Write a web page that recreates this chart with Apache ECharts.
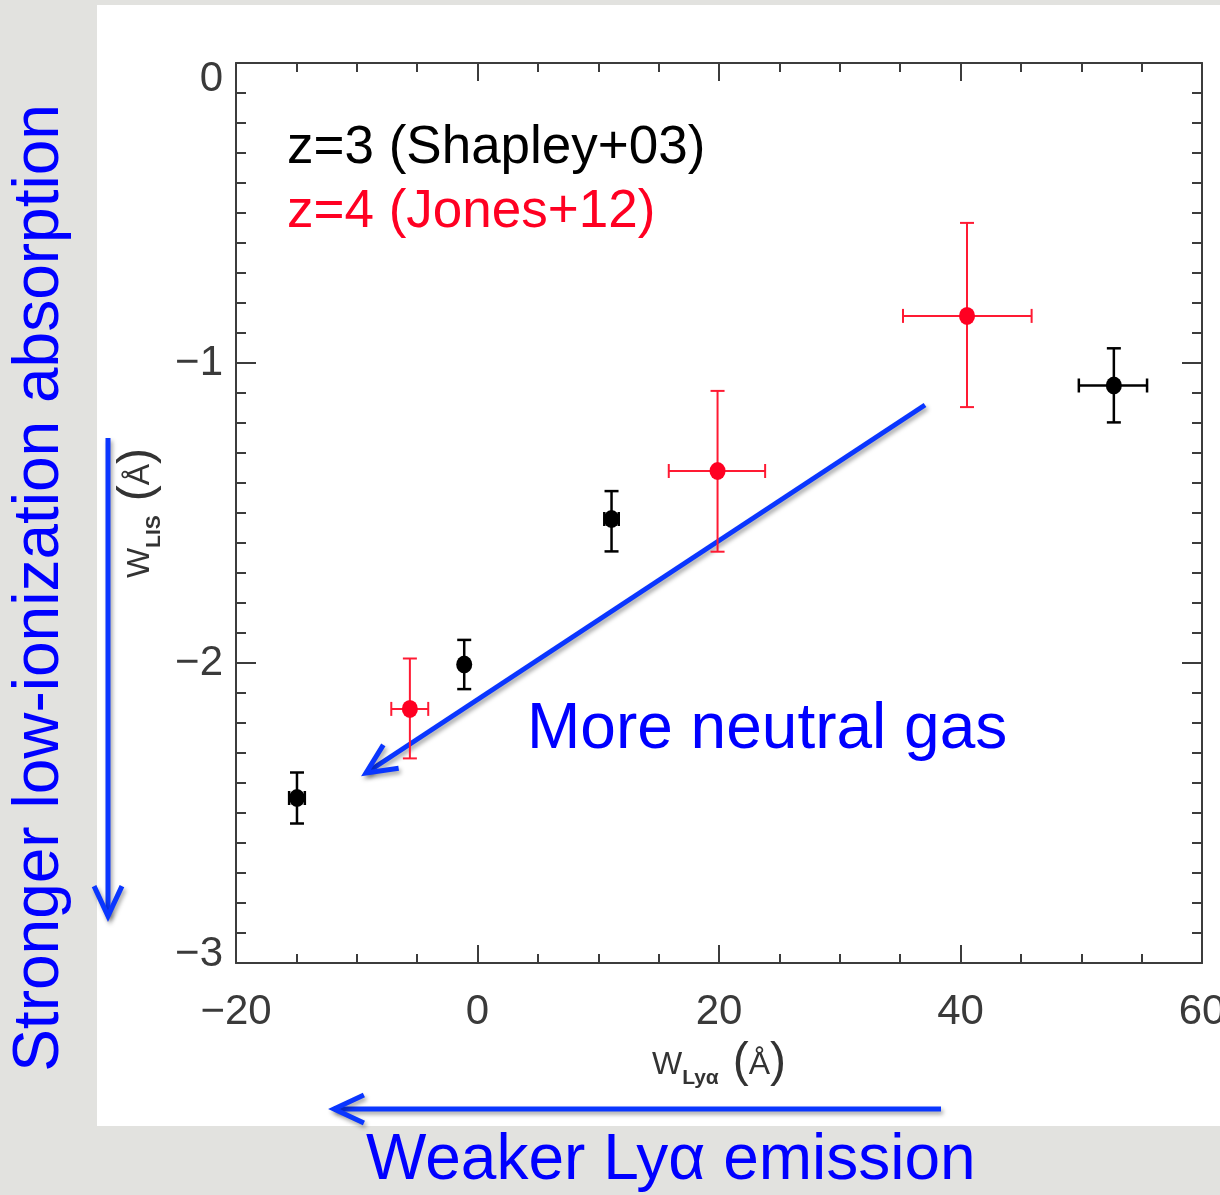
<!DOCTYPE html>
<html>
<head>
<meta charset="utf-8">
<script src="https://cdn.jsdelivr.net/npm/echarts@6/dist/echarts.min.js"></script>
<style>html,body{margin:0;padding:0;background:#e2e2df;overflow:hidden;}#chart{width:1220px;height:1195px;}</style>
</head>
<body>
<div id="chart"></div>
<script>
// ---- data ----
const seriesNames = ['z=3 (Shapley+03)', 'z=4 (Jones+12)'];
const seriesColors = ['#000000', '#ff0022'];

// z=3 Shapley+03
const shapleyX    = [-14.95, -1.1, 11.1, 52.7];
const shapleyY    = [-2.45, -2.005, -1.52, -1.075];
const shapleyXLow = [-15.6, -1.1, 10.5, 49.8];
const shapleyXHigh= [-14.3, -1.1, 11.7, 55.45];
const shapleyYLow = [-2.535, -2.087, -1.628, -1.198];
const shapleyYHigh= [-2.365, -1.923, -1.427, -0.951];

// z=4 Jones+12
const jonesX     = [-5.6, 19.88, 40.54];
const jonesY     = [-2.153, -1.36, -0.843];
const jonesXLow  = [-7.14, 15.84, 35.24];
const jonesXHigh = [-4.08, 23.82, 45.89];
const jonesYLow  = [-2.318, -1.629, -1.147];
const jonesYHigh = [-1.985, -1.093, -0.533];

const xMin = -20, xMax = 60, xStep = 20;
const yMin = -3, yMax = 0, yStep = 1;

function rows(x, y, xl, xh, yl, yh) {
  return x.map((v, i) => [v, y[i], xl[i], xh[i], yl[i], yh[i]]);
}

function errRender(color, lw, cap) {
  return function (params, api) {
    const x = api.value(0), y = api.value(1);
    const xl = api.value(2), xh = api.value(3), yl = api.value(4), yh = api.value(5);
    const c = api.coord([x, y]);
    const pyl = api.coord([x, yl]), pyh = api.coord([x, yh]);
    const pxl = api.coord([xl, y]), pxh = api.coord([xh, y]);
    const st = { stroke: color, lineWidth: lw };
    const ch = [
      { type: 'line', shape: { x1: c[0], y1: pyl[1], x2: c[0], y2: pyh[1] }, style: st },
      { type: 'line', shape: { x1: c[0] - cap, y1: pyl[1], x2: c[0] + cap, y2: pyl[1] }, style: st },
      { type: 'line', shape: { x1: c[0] - cap, y1: pyh[1], x2: c[0] + cap, y2: pyh[1] }, style: st }
    ];
    if (xh > xl) {
      ch.push({ type: 'line', shape: { x1: pxl[0], y1: c[1], x2: pxh[0], y2: c[1] }, style: st });
      ch.push({ type: 'line', shape: { x1: pxl[0], y1: c[1] - cap, x2: pxl[0], y2: c[1] + cap }, style: st });
      ch.push({ type: 'line', shape: { x1: pxh[0], y1: c[1] - cap, x2: pxh[0], y2: c[1] + cap }, style: st });
    }
    return { type: 'group', children: ch };
  };
}

// ---- annotation helpers (decorative arrows) ----
const blue = '#0a36ff';
const shadow = { shadowColor: 'rgba(0,0,0,0.35)', shadowBlur: 4, shadowOffsetX: 2, shadowOffsetY: 3 };
function arrow(x1, y1, x2, y2, lw) {
  const a = Math.atan2(y1 - y2, x1 - x2), L = 33, d = 25 * Math.PI / 180;
  const b1 = [x2 + L * Math.cos(a + d), y2 + L * Math.sin(a + d)];
  const b2 = [x2 + L * Math.cos(a - d), y2 + L * Math.sin(a - d)];
  return {
    type: 'group', z: 100,
    children: [
      { type: 'line', shape: { x1: x1, y1: y1, x2: x2, y2: y2 }, style: Object.assign({ stroke: blue, lineWidth: lw, lineCap: 'butt' }, shadow) },
      { type: 'polyline', shape: { points: [b1, [x2, y2], b2] }, style: Object.assign({ stroke: blue, lineWidth: lw, fill: null, lineJoin: 'miter' }, shadow) }
    ]
  };
}

const tickFont = '"Liberation Sans Narrow", "Liberation Sans", Arial, sans-serif';
const textFont = '"Liberation Sans", Arial, Helvetica, sans-serif';
const axisCol = '#3c3c3c';

function yTickFmt(v) {
  const s = v < 0 ? '\u2212' + Math.abs(v) : String(v);
  if (v === yMax) return '{top|' + s + '}';
  if (v === yMin) return '{bot|' + s + '}';
  return s;
}
function xTickFmt(v) { return v < 0 ? '\u2212' + Math.abs(v) : String(v); }

const nameRich = {
  w: { fontSize: 32, color: '#333', fontFamily: tickFont, verticalAlign: 'bottom', lineHeight: 40, padding: [0, 0, 8, 0] },
  s: { fontSize: 21, color: '#333', fontFamily: textFont, fontWeight: 'bold', verticalAlign: 'bottom', lineHeight: 24 },
  g: { fontSize: 27, color: '#333', fontFamily: tickFont, verticalAlign: 'bottom', lineHeight: 40, width: 14 },
  p: { fontSize: 48, color: '#333', fontFamily: tickFont, fontWeight: 'lighter', verticalAlign: 'bottom', lineHeight: 54, padding: [0, 0, 2, 0] }
};

function xAxisCfg(pos, labels) {
  return {
    type: 'value', position: pos, min: xMin, max: xMax, interval: xStep,
    axisLine: { show: true, onZero: false, lineStyle: { color: axisCol, width: 2 } },
    axisTick: { show: true, inside: true, length: 18, lineStyle: { color: axisCol, width: 2 } },
    minorTick: { show: true, splitNumber: 4, length: 9, lineStyle: { color: axisCol, width: 2 } },
    splitLine: { show: false },
    axisLabel: { show: labels, margin: 28, fontSize: 42, color: '#3a3a3a', fontFamily: tickFont, formatter: xTickFmt },
    name: labels ? '{w|W}{s|Ly\u03b1}{g| }{p|(}{w|\u00c5}{p|)}' : '',
    nameLocation: 'middle', nameGap: 72,
    nameTextStyle: { rich: nameRich }
  };
}
function yAxisCfg(pos, labels) {
  return {
    type: 'value', position: pos, min: yMin, max: yMax, interval: yStep,
    axisLine: { show: true, onZero: false, lineStyle: { color: axisCol, width: 2 } },
    axisTick: { show: true, inside: true, length: 20, lineStyle: { color: axisCol, width: 2 } },
    minorTick: { show: true, splitNumber: 10, length: 10, lineStyle: { color: axisCol, width: 2 } },
    splitLine: { show: false },
    axisLabel: {
      show: labels, margin: 13, fontSize: 42, color: '#3a3a3a', fontFamily: tickFont, formatter: yTickFmt,
      rich: {
        top: { fontSize: 42, color: '#3a3a3a', fontFamily: tickFont, padding: [32, 0, 0, 0] },
        bot: { fontSize: 42, color: '#3a3a3a', fontFamily: tickFont, padding: [0, 0, 18, 0] }
      }
    },
    name: labels ? '{w|W}{s|LIS}{g| }{p|(}{w|\u00c5}{p|)}' : '',
    nameLocation: 'middle', nameGap: 70, nameRotate: 90,
    nameTextStyle: { rich: nameRich }
  };
}

const chart = echarts.init(document.getElementById('chart'), null, { renderer: 'canvas' });
const option = {
  backgroundColor: '#e2e2df',
  animation: false,
  grid: { left: 236, top: 63, right: 18, bottom: 232, containLabel: false, outerBoundsMode: 'none' },
  xAxis: [xAxisCfg('bottom', true), xAxisCfg('top', false)],
  yAxis: [yAxisCfg('left', true), yAxisCfg('right', false)],
  legend: {
    show: true, orient: 'vertical', left: 282, top: 118, padding: 0,
    icon: 'none', itemWidth: 0, itemHeight: 10, itemGap: 4,
    selectedMode: false,
    textStyle: { fontSize: 53, fontFamily: textFont, lineHeight: 60 },
    data: seriesNames.map((n, i) => ({ name: n, textStyle: { color: seriesColors[i] } }))
  },
  graphic: [
    { type: 'rect', z: -100, silent: true, shape: { x: 97, y: 5, width: 1123, height: 1121 }, style: { fill: '#ffffff' } },
    arrow(925, 405, 366, 773, 5),
    arrow(108, 438, 108, 916, 5),
    arrow(941, 1109, 334, 1109, 5),
    { type: 'text', z: 100, x: 527, y: 730, style: { text: 'More neutral gas', fill: '#0000ff', font: '64px ' + textFont, textAlign: 'left', textVerticalAlign: 'middle' } },
    { type: 'text', z: 100, x: 366, y: 1161, style: { text: 'Weaker Ly\u03b1 emission', fill: '#0000ff', font: '64px ' + textFont, textAlign: 'left', textVerticalAlign: 'middle' } },
    { type: 'text', z: 100, x: 40, y: 588, rotation: Math.PI / 2, style: { text: 'Stronger low-ionization absorption', fill: '#0000ff', font: '64px ' + textFont, textAlign: 'center', textVerticalAlign: 'middle' } }
  ],
  series: [
    { name: seriesNames[0], type: 'custom', renderItem: errRender('#000000', 2.5, 7), data: rows(shapleyX, shapleyY, shapleyXLow, shapleyXHigh, shapleyYLow, shapleyYHigh), z: 3, silent: true },
    { name: seriesNames[1], type: 'custom', renderItem: errRender('#ff1a33', 2, 7), data: rows(jonesX, jonesY, jonesXLow, jonesXHigh, jonesYLow, jonesYHigh), z: 3, silent: true },
    { name: seriesNames[0], type: 'scatter', symbol: 'circle', symbolSize: [16, 18], itemStyle: { color: '#000000', opacity: 1 }, data: shapleyX.map((v, i) => [v, shapleyY[i]]), z: 4 },
    { name: seriesNames[1], type: 'scatter', symbol: 'circle', symbolSize: [16, 18], itemStyle: { color: '#ff0022', opacity: 1 }, data: jonesX.map((v, i) => [v, jonesY[i]]), z: 4 }
  ]
};
chart.setOption(option);
</script>
</body>
</html>
